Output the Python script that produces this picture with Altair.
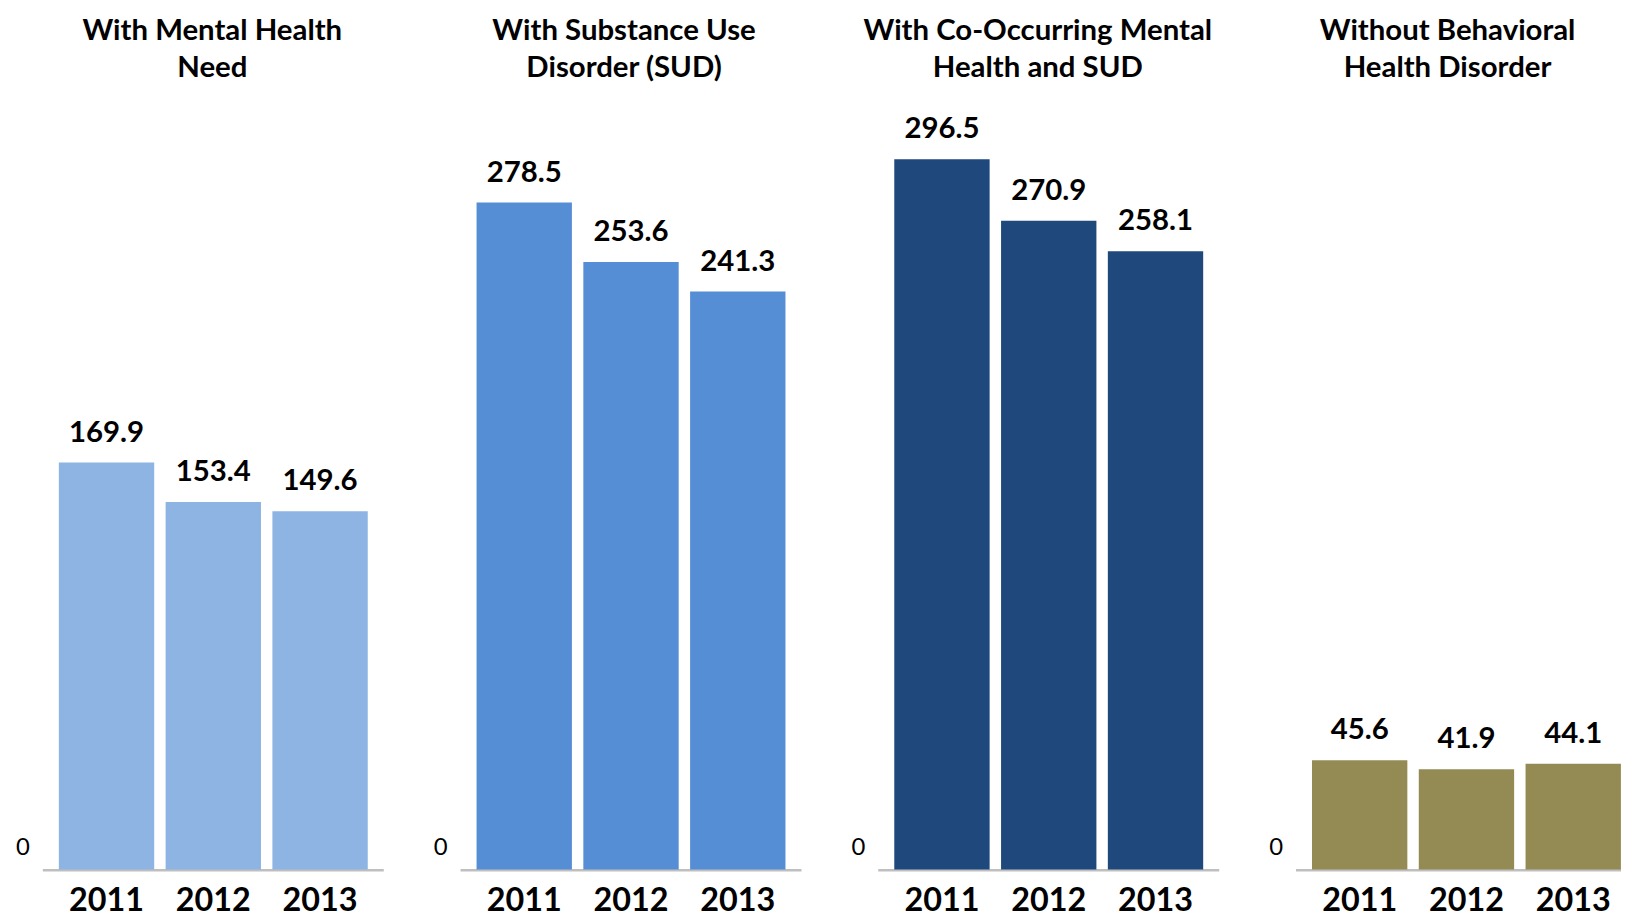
import altair as alt
import pandas as pd

groups = ["mh", "sud", "co", "none"]
titles = [
    "With Mental Health\nNeed",
    "With Substance Use\nDisorder (SUD)",
    "With Co-Occurring Mental\nHealth and SUD",
    "Without Behavioral\nHealth Disorder",
]
title_dx = [-1, -7, -11, -19]
years = ["2011", "2012", "2013"]
mental = [169.9, 153.4, 149.6]
sud = [278.5, 253.6, 241.3]
cooc = [296.5, 270.9, 258.1]
without = [45.6, 41.9, 44.1]
colors = ["#8EB4E3", "#558ED5", "#1F497D", "#948A54"]

series = [mental, sud, cooc, without]
rows = []
for g, vals in zip(groups, series):
    for y, v in zip(years, vals):
        rows.append({"group": g, "year": y, "value": v, "label": f"{v:.1f}"})
df = pd.DataFrame(rows)
gdf = pd.DataFrame({"group": groups, "zero": ["0"] * 4, "title": titles})

FONT = "Lato"
W, H = 1621, 912
XRANGE = [35, 1637]


def X(**kw):
    return alt.X(
        "group:N",
        sort=groups,
        axis=None,
        scale=alt.Scale(domain=groups, range=XRANGE, paddingInner=0.1838, paddingOuter=0),
        **kw,
    )


def XO():
    return alt.XOffset(
        "year:N", sort=years, scale=alt.Scale(domain=years, paddingInner=0.107, paddingOuter=0.15)
    )


Y = alt.Y(
    "value:Q",
    axis=None,
    scale=alt.Scale(domain=[0, 300], range=[863.5, 863.5 - 300 * 2.407]),
)

base = alt.Chart(df)

bars = base.mark_bar().encode(
    x=X(),
    xOffset=XO(),
    y=Y,
    color=alt.Color("group:N", scale=alt.Scale(domain=groups, range=colors), legend=None),
)

values = base.mark_text(
    font=FONT, fontSize=29.5, fontWeight="bold", color="#000000", baseline="alphabetic", dy=-21
).encode(x=X(), xOffset=XO(), y=Y, text="label:N")

year_labels = base.mark_text(
    font=FONT, fontSize=32.5, fontWeight="bold", color="#000000", baseline="alphabetic"
).encode(x=X(), xOffset=XO(), y=alt.value(905), text="year:N")

gbase = alt.Chart(gdf)

axis_lines = gbase.mark_rect(color="#BFBFBF").encode(
    x=X(), y=alt.value(863), y2=alt.value(865.5)
)

zeros = gbase.mark_text(
    font=FONT, fontSize=24, color="#000000", baseline="alphabetic", align="center", dx=-20, dy=-15
).encode(
    x=X(bandPosition=0),
    y=alt.value(863.5),
    text="zero:N",
)

title_layers = []
for g, dx in zip(groups, title_dx):
    title_layers.append(
        gbase.transform_filter(alt.datum.group == g)
        .mark_text(
            font=FONT, fontSize=29.5, fontWeight="bold", color="#000000",
            baseline="alphabetic", lineBreak="\n", lineHeight=38, dx=dx,
        )
        .encode(x=X(), y=alt.value(29.5), text="title:N")
    )

chart = (
    alt.layer(axis_lines, bars, values, year_labels, zeros, *title_layers)
    .properties(width=W, height=H, autosize=alt.AutoSizeParams(type="none"), padding=0)
    .configure_view(stroke=None)
)

chart.save("out.html", embed_options={"renderer": "svg", "actions": False})
